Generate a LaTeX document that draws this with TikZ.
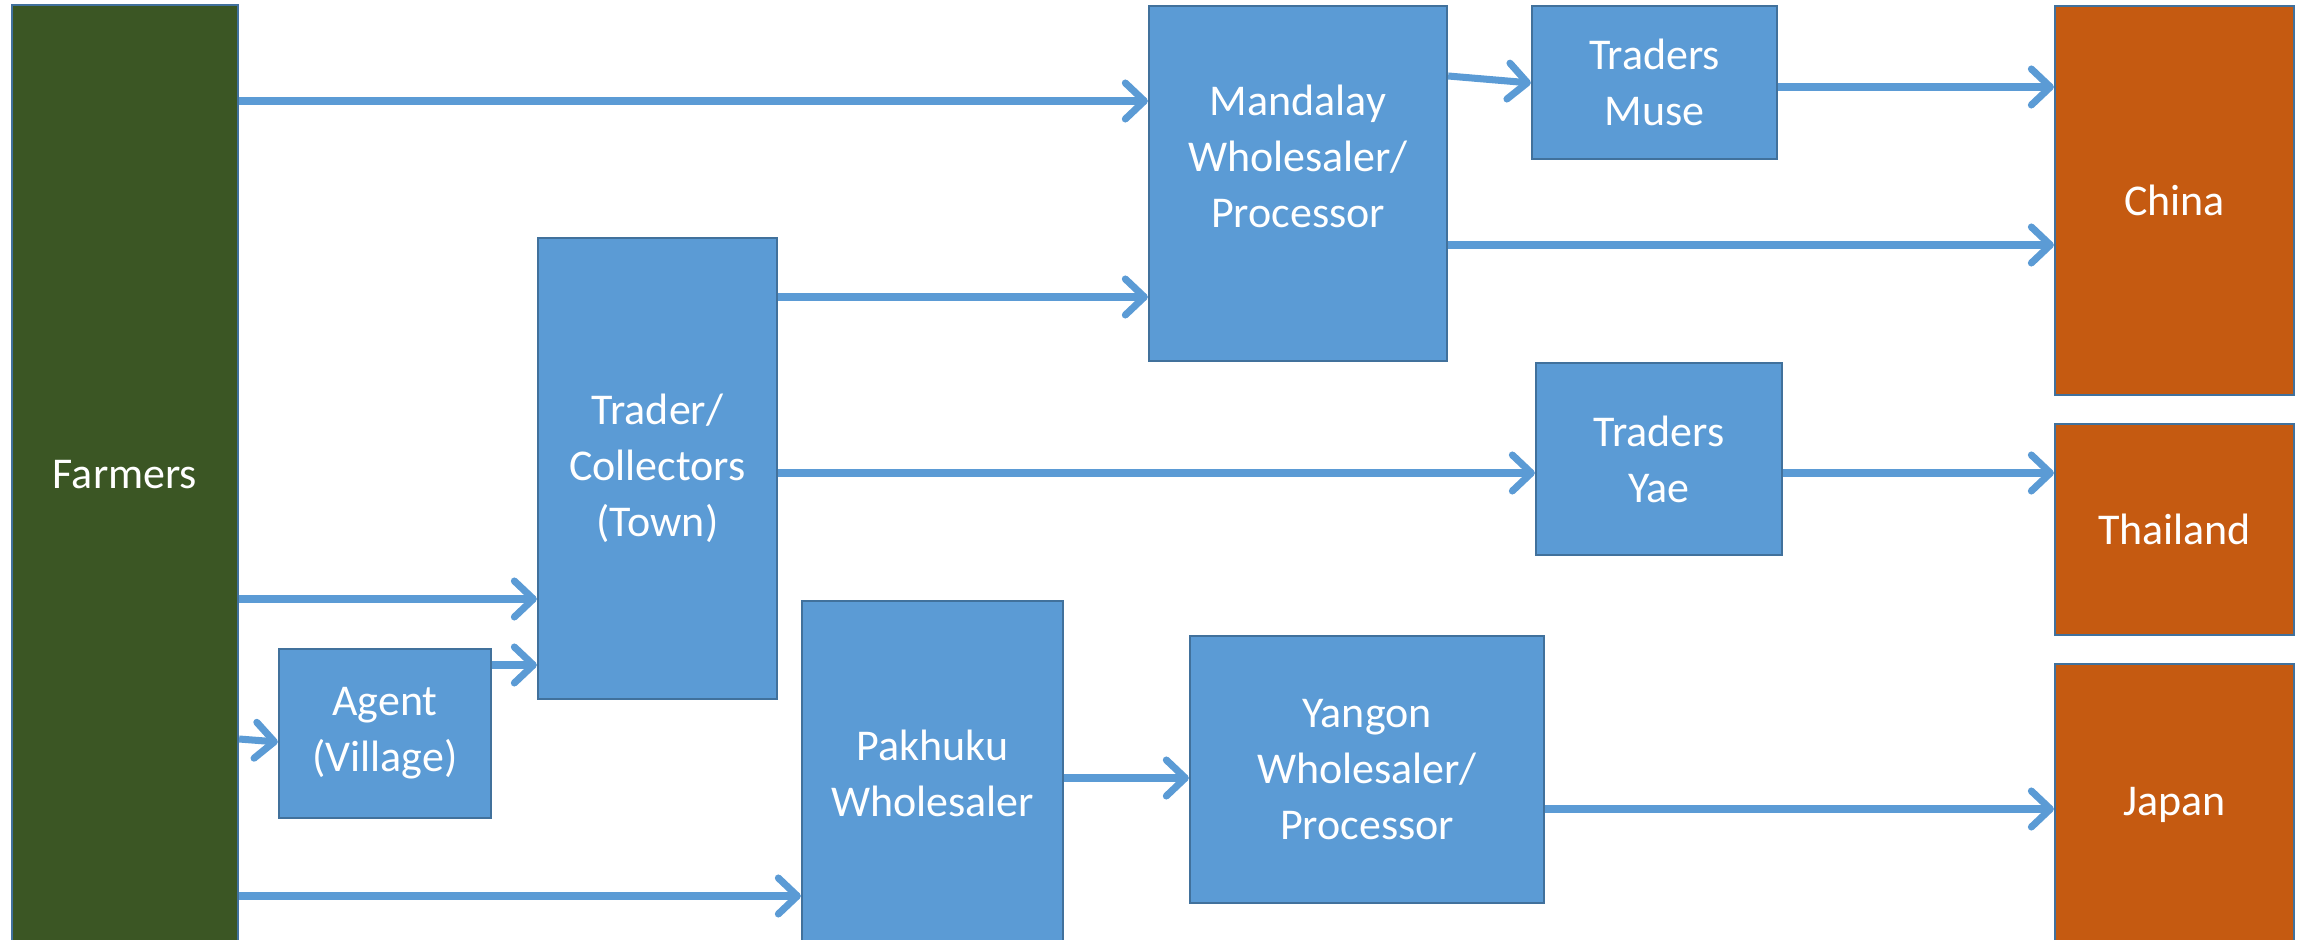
\documentclass[tikz,border=0pt]{standalone}
\usepackage{fontspec}
\setmainfont{Carlito}
\usetikzlibrary{arrows.meta}

\definecolor{boxblue}{RGB}{91,155,213}
\definecolor{edgeblue}{RGB}{65,113,156}
\definecolor{farmgreen}{RGB}{59,86,36}
\definecolor{landorange}{RGB}{197,90,17}

\tikzset{
  box/.style={draw=edgeblue, line width=0.6pt, fill=boxblue, text=white, align=center,
    inner sep=0pt, font=\fontsize{12.5}{15.9}\selectfont},
  farmbox/.style={box, fill=farmgreen},
  landbox/.style={box, fill=landorange},
  flow/.style={boxblue, line width=2pt, -{Straight Barb[length=0.19cm, width=0.36cm, round]}}
}

\begin{document}
\begin{tikzpicture}[x=0.01cm, y=-0.01cm]

\useasboundingbox (0,0) rectangle (2303,940);

% farmers
\node[farmbox, minimum width=2.26cm, minimum height=9.4cm] (farmers) at (125,475) {Farmers};

% traders
\node[box, minimum width=2.12cm, minimum height=1.69cm] (agent) at (385,733.5) {Agent\\(Village)};
\node[box, minimum width=2.39cm, minimum height=4.61cm] (town) at (657.5,468.5) {Trader/\\Collectors\\(Town)};
\node[box, minimum width=2.98cm, minimum height=3.55cm,
  label={[box, draw=none, fill=none, yshift=0.27cm]center:{Mandalay\\Wholesaler/\\Processor}}] (mandalay) at (1298,183.5) {};
\node[box, minimum width=2.61cm, minimum height=3.44cm] (pakhuku) at (932.5,773) {Pakhuku\\Wholesaler};
\node[box, minimum width=3.54cm, minimum height=2.67cm] (yangon) at (1367,769.5) {Yangon\\Wholesaler/\\Processor};
\node[box, minimum width=2.45cm, minimum height=1.53cm] (muse) at (1654.5,82.5) {Traders\\Muse};
\node[box, minimum width=2.46cm, minimum height=1.92cm] (yae) at (1659,459) {Traders\\Yae};

% countries
\node[landbox, minimum width=2.39cm, minimum height=3.89cm] (china) at (2174.5,200.5) {China};
\node[landbox, minimum width=2.39cm, minimum height=2.11cm] (thailand) at (2174.5,529.5) {Thailand};
\node[landbox, minimum width=2.39cm, minimum height=2.81cm] (japan) at (2174.5,804.5) {Japan};

% flows
\draw[flow] (farmers.east |- 0,101) -- (mandalay.west |- 0,101);
\draw[flow] (farmers.east |- 0,599) -- (town.west |- 0,599);
\draw[flow] (farmers.east |- 0,739) -- (agent.west |- 0,742);
\draw[flow] (farmers.east |- 0,896) -- (pakhuku.west |- 0,896);
\draw[flow] (agent.east |- 0,665) -- (town.west |- 0,665);
\draw[flow] (town.east |- 0,297) -- (mandalay.west |- 0,297);
\draw[flow] (town.east |- 0,473) -- (yae.west |- 0,473);
\draw[flow] (mandalay.east |- 0,76) -- (muse.west |- 0,83);
\draw[flow] (muse.east |- 0,87) -- (china.west |- 0,87);
\draw[flow] (mandalay.east |- 0,245) -- (china.west |- 0,245);
\draw[flow] (yae.east |- 0,473) -- (thailand.west |- 0,473);
\draw[flow] (pakhuku.east |- 0,778) -- (yangon.west |- 0,778);
\draw[flow] (yangon.east |- 0,809) -- (japan.west |- 0,809);

\end{tikzpicture}
\end{document}
